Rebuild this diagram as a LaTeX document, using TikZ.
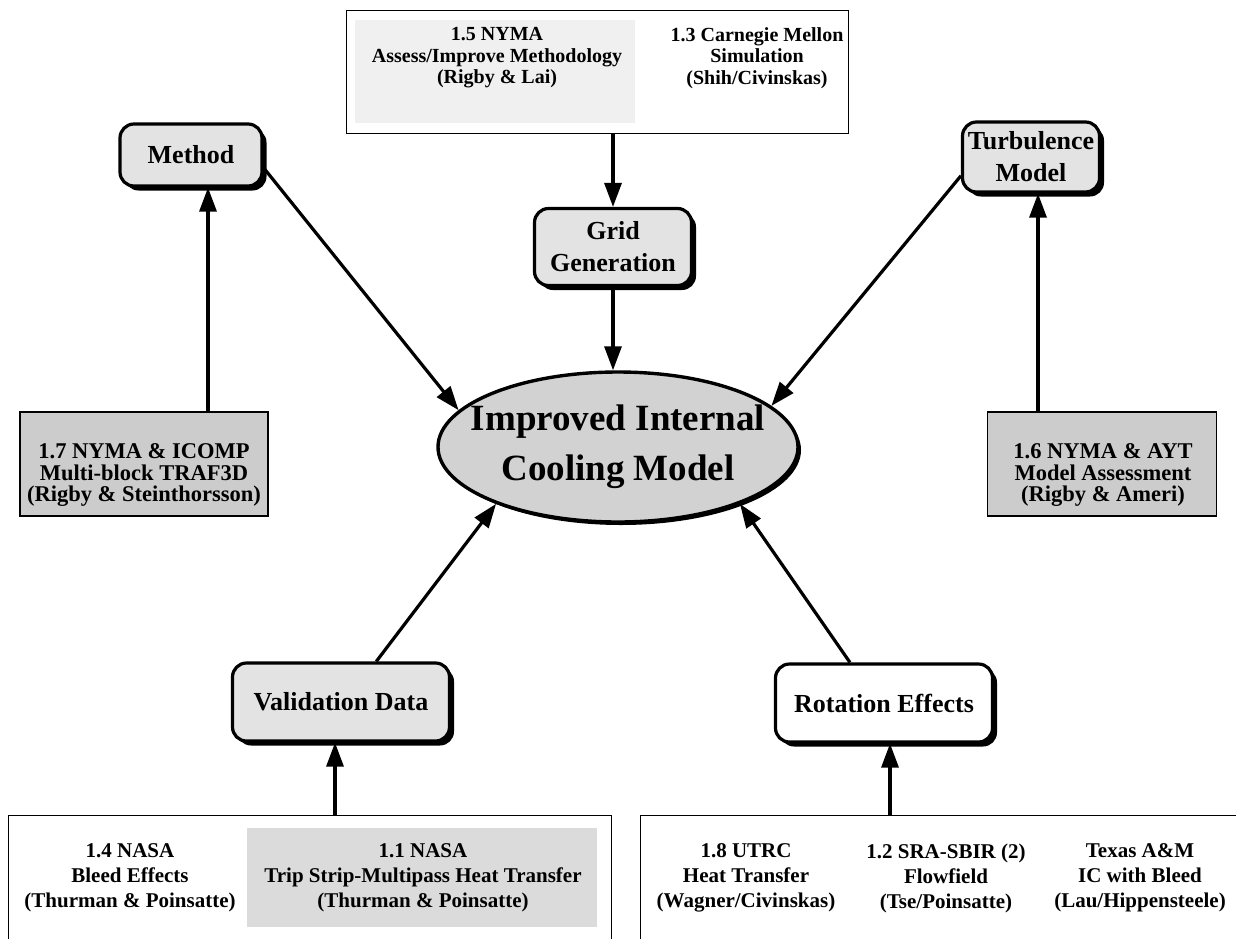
\documentclass[tikz,border=0pt]{standalone}
\usepackage{fontspec}
\setmainfont{Liberation Serif}
\usetikzlibrary{arrows.meta,shapes.geometric,shadows,calc}
\begin{document}
\begin{tikzpicture}[x=1pt,y=-1pt,
  shd/.style={drop shadow={shadow xshift=4.5pt,shadow yshift=-4.5pt,opacity=1,fill=black}},
  rbox/.style={shd,draw=black,line width=3.2pt,rounded corners=14pt,fill=gray!22,align=center,inner sep=0pt,
     font=\bfseries\fontsize{26}{32}\selectfont},
  outerbox/.style={draw=black,line width=0.9pt,inner sep=0pt},
  shadebox/.style={fill=gray!#1,inner sep=0pt},
  subbox/.style={draw=black,line width=1.6pt,fill=gray!40,inner sep=0pt},
  txt/.style={align=center,inner sep=0pt,font=\bfseries\fontsize{#1}{25}\selectfont},
  stxt/.style={align=center,inner sep=0pt,font=\bfseries\fontsize{#1}{21.5}\selectfont},
  arr/.style={line width=3.2pt,-{Triangle[length=24pt,width=17pt]}}
]
\clip (0,0) rectangle (1236,938);
\fill[white] (0,0) rectangle (1236,938);

% top source box
\node[outerbox,minimum width=502,minimum height=123] (top) at (597,71.5) {};
\node[shadebox=12,minimum width=280,minimum height=103] (s15) at (495,71.5) {};
\node[stxt=20] (n15) at (497,58) {1.5 NYMA\\Assess/Improve Methodology\\(Rigby \& Lai)};
\node[stxt=20] (n13) at (757,58) {1.3 Carnegie Mellon\\Simulation\\(Shih/Civinskas)};

% center ellipse
\node[ellipse,draw=black,line width=3.4pt,fill=gray!35,minimum width=360,minimum height=150,inner sep=0pt,
      drop shadow={shadow xshift=3pt,shadow yshift=-3pt,opacity=1,fill=black}] (ell) at (618,447) {};
\node[align=center,inner sep=0pt,font=\bfseries\fontsize{37}{50}\selectfont] (elltxt) at (ell.center) {Improved Internal\\Cooling Model};

% rounded boxes
\node[rbox,minimum width=157,minimum height=77] (grid) at (613,247) {Grid\\Generation};
\node[rbox,minimum width=142,minimum height=62] (meth) at (191,155) {Method};
\node[rbox,minimum width=137,minimum height=70] (turb) at (1031,157) {Turbulence\\Model};
\node[rbox,minimum width=217,minimum height=78] (val) at (341,702) {Validation Data};
\node[rbox,fill=white,minimum width=217,minimum height=78] (rot) at (884,703) {Rotation Effects};

% side boxes
\node[subbox,minimum width=248,minimum height=104] (n17) at (144,464) {};
\node[stxt=22.5] (t17) at (144,475) {1.7 NYMA \& ICOMP\\Multi-block TRAF3D\\(Rigby \& Steinthorsson)};
\node[subbox,minimum width=229,minimum height=104] (n16) at (1102,464) {};
\node[stxt=22.5] (t16) at (1103,475) {1.6 NYMA \& AYT\\Model Assessment\\(Rigby \& Ameri)};

% bottom boxes
\node[outerbox,minimum width=603,minimum height=145] (bl) at (309.5,887.5) {};
\node[shadebox=28,minimum width=350,minimum height=99] (s11) at (422,877.5) {};
\node[txt=21] (n11) at (423,878) {1.1 NASA\\Trip Strip-Multipass Heat Transfer\\(Thurman \& Poinsatte)};
\node[txt=21] (n14) at (130,878) {1.4 NASA\\Bleed Effects\\(Thurman \& Poinsatte)};

\node[outerbox,minimum width=610,minimum height=145] (br) at (945,887.5) {};
\node[txt=21] (n18) at (746,878) {1.8 UTRC\\Heat Transfer\\(Wagner/Civinskas)};
\node[txt=21] (n12) at (946,878) {1.2 SRA-SBIR (2)\\Flowfield\\(Tse/Poinsatte)};
\node[txt=21] (ntx) at (1140,878) {Texas A\&M\\IC with Bleed\\(Lau/Hippensteele)};

% connectors
\draw[arr] (grid.north |- top.south) -- (grid.north);
\draw[arr] (grid.south) -- (grid.south |- ell.north);
\draw[arr] (meth.-10) -- (ell.167);
\draw[arr] (turb.195) -- (ell.15);
\draw[arr] (val.49) -- (ell.205);
\draw[arr] (rot.130) -- (ell.-25);
\draw[arr] ([xshift=17pt]meth.south |- n17.north) -- ([xshift=17pt]meth.south);
\draw[arr] ([xshift=7pt]turb.south |- n16.north) -- ([xshift=7pt]turb.south);
\draw[arr] ([xshift=-6pt]val.south |- bl.north) -- ([xshift=-6pt]val.south);
\draw[arr] ([xshift=6pt]rot.south |- br.north) -- ([xshift=6pt]rot.south);
\end{tikzpicture}
\end{document}
